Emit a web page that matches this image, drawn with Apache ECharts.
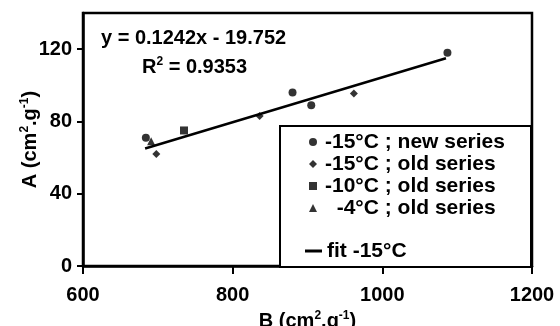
<!DOCTYPE html>
<html>
<head>
<meta charset="utf-8">
<script src="https://cdn.jsdelivr.net/npm/echarts@6/dist/echarts.min.js"></script>
<style>
html,body{margin:0;padding:0;background:#fff;}
#chart{width:560px;height:326px;}
</style>
</head>
<body>
<div id="chart"></div>
<script>
// Data
var newSeriesX = [684, 880, 905, 1087];
var newSeriesY = [71, 96, 89, 118];
var old15X = [698, 836, 962];
var old15Y = [62, 83, 95.5];
var old10X = [735];
var old10Y = [75];
var old4X = [691];
var old4Y = [69];
var fitX = [683, 1085];
var fitY = [65, 115];
var xTicks = [600, 800, 1000, 1200];
var yTicks = [0, 40, 80, 120];
var seriesNames = ['-15°C ; new series', '-15°C ; old series', '-10°C ; old series', '  -4°C ; old series', 'fit -15°C'];
var equationText = 'y = 0.1242x - 19.752';
var r2Text = '0.9353';

function pairs(xs, ys) { return xs.map(function (x, i) { return [x, ys[i]]; }); }

var FONT = '"Liberation Sans", Arial, Helvetica, sans-serif';
var supRich = {
  base: { fontSize: 20, fontWeight: 'bold', fontFamily: FONT, color: '#000', lineHeight: 22 },
  sup: { fontSize: 12, fontWeight: 'bold', fontFamily: FONT, color: '#000', verticalAlign: 'top', lineHeight: 12 }
};
var legendText = { color: '#000', fontSize: 21, fontWeight: 'bold', fontFamily: FONT, lineHeight: 22 };

var chart = echarts.init(document.getElementById('chart'), null, { renderer: 'canvas' });
chart.setOption({
  backgroundColor: '#fff',
  animation: false,
  grid: { left: 83, right: 28, top: 13, bottom: 60, containLabel: false, outerBoundsMode: 'none',
    show: true, borderColor: '#000', borderWidth: 2.5, backgroundColor: 'transparent' },
  xAxis: {
    type: 'value', min: xTicks[0], max: xTicks[xTicks.length - 1], interval: 200,
    axisLine: { lineStyle: { color: '#000', width: 2.5 } },
    axisTick: { show: true, inside: false, length: 8, lineStyle: { color: '#000', width: 2 } },
    axisLabel: { color: '#000', fontSize: 20, fontWeight: 'bold', fontFamily: FONT, margin: 19,
      formatter: function (v) { return String(v); } },
    splitLine: { show: false },
    name: '{base|B (cm}{sup|2}{base|.g}{sup|-1}{base|)}',
    nameLocation: 'middle', nameGap: 44, nameMoveOverlap: false,
    nameTextStyle: { rich: supRich }
  },
  yAxis: {
    type: 'value', min: 0, max: 140, interval: 40,
    axisLine: { lineStyle: { color: '#000', width: 2.5 } },
    axisTick: { show: true, inside: false, length: 6, lineStyle: { color: '#000', width: 2 }, customValues: yTicks },
    axisLabel: { color: '#000', fontSize: 20, fontWeight: 'bold', fontFamily: FONT, margin: 11, customValues: yTicks,
      formatter: function (v) { return String(v); } },
    splitLine: { show: false },
    name: '{base|A (cm}{sup|2}{base|.g}{sup|-1}{base|)}',
    nameLocation: 'middle', nameGap: 42, nameRotate: 90, nameMoveOverlap: false,
    nameTextStyle: { rich: supRich }
  },
  legend: [
    {
      data: [
        { name: seriesNames[0], icon: 'circle' },
        { name: seriesNames[1], icon: 'diamond' },
        { name: seriesNames[2], icon: 'rect' },
        { name: seriesNames[3], icon: 'triangle' }
      ],
      orient: 'vertical', left: 309, top: 131,
      padding: 0, itemGap: 0, itemWidth: 8, itemHeight: 8, z: 10,
      textStyle: Object.assign({ padding: [0, 0, 0, 3] }, legendText), selectedMode: false
    },
    {
      data: [{ name: seriesNames[4], icon: 'rect' }],
      orient: 'vertical', left: 305, top: 240,
      padding: 0, itemGap: 0, itemWidth: 17, itemHeight: 3, z: 10,
      textStyle: legendText, selectedMode: false
    }
  ],
  graphic: [
    { type: 'rect', z: 5, shape: { x: 280, y: 126, width: 251, height: 141 }, style: { fill: '#fff', stroke: '#000', lineWidth: 2 } },
    { type: 'text', z: 6, left: 101, top: 28, style: { text: equationText, fill: '#000', font: 'bold 20px ' + FONT } },
    { type: 'text', z: 6, left: 142, top: 56, style: {
        text: '{base|R}{sup|2}{base| = ' + r2Text + '}',
        rich: supRich
      } }
  ],
  series: [
    { name: seriesNames[0], type: 'scatter', symbol: 'circle', symbolSize: 8, itemStyle: { color: '#000' }, data: pairs(newSeriesX, newSeriesY), z: 3 },
    { name: seriesNames[1], type: 'scatter', symbol: 'diamond', symbolSize: 8, itemStyle: { color: '#000' }, data: pairs(old15X, old15Y), z: 3 },
    { name: seriesNames[2], type: 'scatter', symbol: 'rect', symbolSize: 8, itemStyle: { color: '#000' }, data: pairs(old10X, old10Y), z: 3 },
    { name: seriesNames[3], type: 'scatter', symbol: 'triangle', symbolSize: 8, itemStyle: { color: '#000' }, data: pairs(old4X, old4Y), z: 3 },
    { name: seriesNames[4], type: 'line', symbol: 'none', showSymbol: false, lineStyle: { color: '#000', width: 2.5 }, itemStyle: { color: '#000' }, data: pairs(fitX, fitY), z: 2 }
  ]
});
</script>
</body>
</html>
